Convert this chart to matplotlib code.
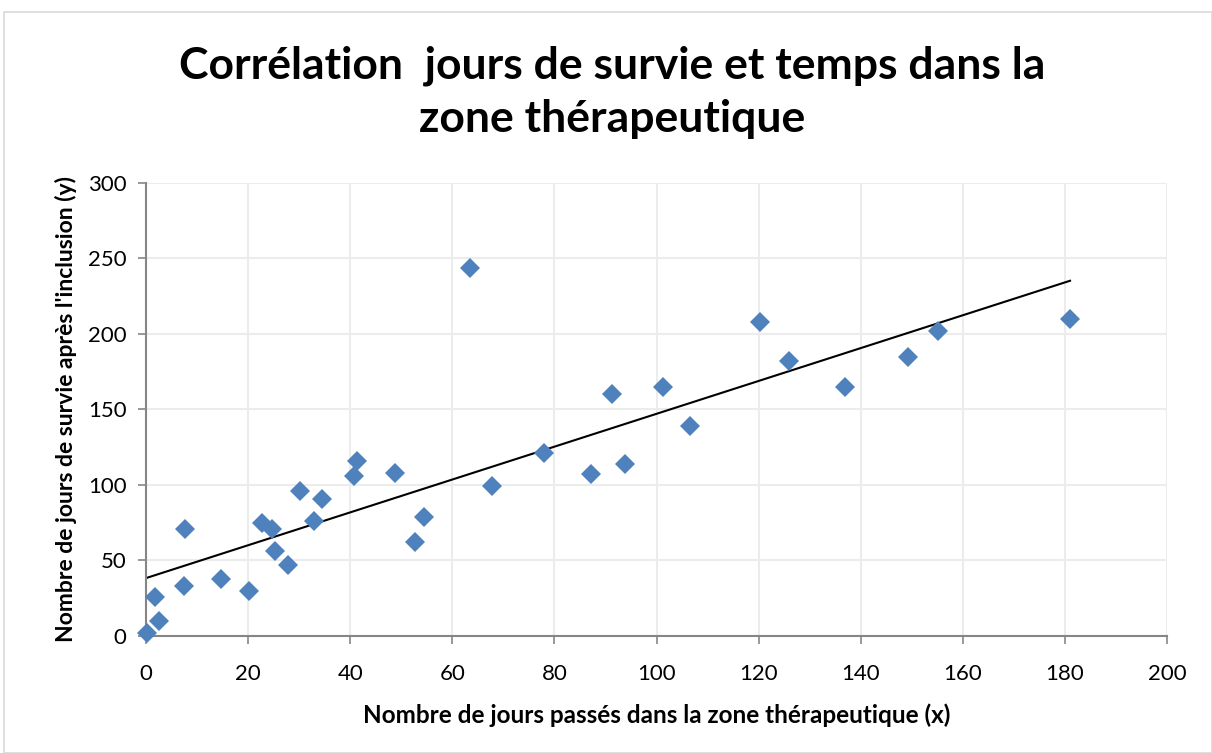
import numpy as np
import matplotlib.pyplot as plt
from matplotlib.patches import Rectangle

# days in therapeutic zone (x) and survival days after inclusion (y)
jours_zone = [0.2, 1.8, 2.5, 7.6, 7.4, 14.7, 20.2, 22.7, 24.7, 25.3, 27.8,
              30.2, 32.9, 34.5, 40.7, 41.3, 48.8, 52.7, 54.5, 63.5, 67.8,
              78.0, 87.2, 91.3, 93.8, 101.3, 106.6, 120.3, 126.0, 136.9,
              149.3, 155.1, 181.0]
jours_survie = [2, 26, 10, 71, 33, 38, 30, 75, 71, 56, 47,
                96, 76, 91, 106, 116, 108, 62, 79, 244, 99,
                121, 107, 160, 114, 165, 139, 208, 182, 165,
                185, 202, 210]

x_ticks = [0, 20, 40, 60, 80, 100, 120, 140, 160, 180, 200]
y_ticks = [0, 50, 100, 150, 200, 250, 300]

x = np.array(jours_zone)
y = np.array(jours_survie)

# linear trend line (least squares, like excel)
slope, intercept = np.polyfit(x, y, 1)
xl = np.array([0, x.max()])
yl = slope * xl + intercept

plt.rcParams['font.family'] = ['Lato', 'DejaVu Sans']

fig = plt.figure(figsize=(12.12, 7.53), dpi=100)
ax = fig.add_axes([0.1205, 0.1554, 0.9629 - 0.1205, 0.757 - 0.1554])

# chart frame
fig.patches.append(Rectangle((0.003, 0.0), 0.997, 0.984, transform=fig.transFigure,
                             fill=False, edgecolor='#d9d9d9', linewidth=1.2))

ax.grid(True, color='#ececec', linewidth=1.5)
ax.set_axisbelow(True)
ax.plot(xl, yl, color='black', linewidth=1.5, zorder=2)
ax.plot(x, y, 'D', color='#4f81bd', markersize=10, markeredgewidth=0, zorder=3,
        clip_on=False)

ax.set_xlim(0, 200)
ax.set_ylim(0, 300)
ax.set_xticks(x_ticks)
ax.set_yticks(y_ticks)
ax.tick_params(labelsize=16, color='#868686', length=6, width=1.2)
ax.tick_params(axis='x', pad=14)
ax.tick_params(axis='y', pad=8)
for s in ['top', 'right']:
    ax.spines[s].set_visible(False)
for s in ['left', 'bottom']:
    ax.spines[s].set_color('#868686')
    ax.spines[s].set_linewidth(1.5)

ax.set_xlabel('Nombre de jours passés dans la zone thérapeutique (x)',
              fontsize=17.5, fontweight='bold', labelpad=14)
ax.set_ylabel("Nombre de jours de survie après l'inclusion (y)",
              fontsize=16.5, fontweight='bold', labelpad=8)

fig.text(0.505, 0.878, 'Corrélation  jours de survie et temps dans la\nzone thérapeutique',
         ha='center', va='center', fontsize=32, fontweight='bold', linespacing=1.4)

plt.savefig('out.png', dpi=100)
